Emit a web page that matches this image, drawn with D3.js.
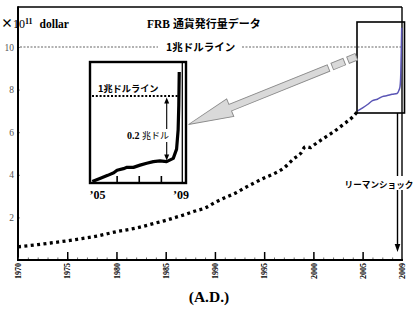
<!DOCTYPE html>
<html><head><meta charset="utf-8">
<script src="https://cdn.jsdelivr.net/npm/d3@7"></script>
<style>html,body{margin:0;padding:0;background:#fff;}svg{display:block;}</style>
</head><body>
<script>
// ---- data (×10^11 dollar) ----
const years = [1970,1972,1974,1975,1976,1978,1980,1982,1984,1985,1986,1987,1988,1989,1990,1991,1992,1993,1994,1995,1996,1997,1998,1998.7,1999.2,1999.7,2000,2001,2002,2003,2004,2004.5];
const values = [0.62,0.72,0.84,0.9,0.97,1.12,1.33,1.5,1.74,1.86,2.0,2.14,2.3,2.44,2.7,2.92,3.12,3.38,3.62,3.85,4.05,4.32,4.75,5.0,5.32,5.28,5.38,5.7,6.0,6.35,6.72,6.98];
const recentYears = [2004.5,2005,2005.5,2006,2006.5,2007,2007.5,2008,2008.5,2008.7,2008.8,2008.88,2008.93,2008.97];
const recentValues = [7.0,7.14,7.3,7.48,7.55,7.67,7.72,7.78,7.82,7.98,8.14,8.78,9.86,10.9];
const insetYears = [2004.9,2005.27,2005.6,2005.87,2006.02,2006.31,2006.47,2006.76,2007.06,2007.36,2007.66,2007.96,2008.26,2008.56,2008.71,2008.78,2008.81,2008.83];
const insetValues = [7.33,7.43,7.52,7.6,7.68,7.73,7.77,7.77,7.84,7.9,7.95,7.97,7.95,8.05,8.34,8.94,9.72,10.75];
const yTicks = [2,4,6,8,10];
const xMajorTicks = [1970,1975,1980,1985,1990,1995,2000,2005,2009];
const insetTicks = [2006,2007,2008];
const insetTickLabels = [[2005,"’05"],[2009,"’09"]];
const trillionLine = 10;

const W=414,H=319;
const jp="'Noto Sans CJK JP', sans-serif";
const serif="'Liberation Serif','Times New Roman',serif";
const svg=d3.select("body").append("svg").attr("width",W).attr("height",H);

const x=d3.scaleLinear().domain([1970,2009]).range([18,402]);
const y=d3.scaleLinear().domain([0,10]).range([260,47]);
const frameTop=7;

// frame top & right
svg.append("line").attr("x1",x(1970)).attr("x2",x(2009)).attr("y1",frameTop).attr("y2",frameTop).attr("stroke","#000").attr("stroke-width",1.6);
svg.append("line").attr("x1",x(2009)).attr("x2",x(2009)).attr("y1",frameTop).attr("y2",y(0)).attr("stroke","#000").attr("stroke-width",1.4);

// trillion dotted line (main)
const ty=y(trillionLine);
svg.append("line").attr("x1",x(1970)+2).attr("x2",158).attr("y1",ty).attr("y2",ty).attr("stroke","#666").attr("stroke-width",1.1).attr("stroke-dasharray","2,1.5");
svg.append("line").attr("x1",242).attr("x2",x(2009)).attr("y1",ty).attr("y2",ty).attr("stroke","#666").attr("stroke-width",1.1).attr("stroke-dasharray","2,1.5");
svg.append("text").attr("x",166).attr("y",ty+4).attr("font-family",jp).attr("font-weight","bold").attr("font-size",10.5).text("1兆ドルライン");

// title & unit
const tt=svg.append("text").attr("x",147).attr("y",28).attr("font-weight","bold").attr("font-size",11);
tt.append("tspan").attr("font-family",serif).attr("font-size",11.5).text("FRB ");
tt.append("tspan").attr("font-family",jp).text("通貨発行量データ");
const ut=svg.append("text").attr("x",1).attr("y",28).attr("font-family",serif).attr("font-weight","bold").attr("font-size",11.5);
ut.append("tspan").attr("font-family",jp).attr("font-size",12).text("×");
ut.append("tspan").attr("font-weight","normal").attr("font-size",12).text("10");
ut.append("tspan").attr("font-size",8).attr("dy",-4).text("11");
ut.append("tspan").attr("dy",4).attr("dx",7).text("dollar");

// y axis
const yAxis=d3.axisLeft(y).tickValues(yTicks).tickSize(-2).tickPadding(4).tickFormat(d3.format("d"));
const gy=svg.append("g").attr("transform",`translate(${x(1970)},0)`).call(yAxis);
gy.select(".domain").remove();
gy.selectAll(".tick line").attr("stroke","#888");
gy.selectAll("text").attr("font-family",serif).attr("font-size",9.5).attr("fill","#555");
svg.append("line").attr("x1",x(1970)).attr("x2",x(1970)).attr("y1",frameTop-0.8).attr("y2",y(0)+1).attr("stroke","#000").attr("stroke-width",2);

// x axis
const gx=svg.append("g").attr("transform",`translate(0,${y(0)})`);
gx.call(d3.axisBottom(x).tickValues(d3.range(1970,2010)).tickSize(-2.5).tickFormat(""));
gx.select(".domain").remove();
gx.selectAll(".tick line").attr("stroke","#444").attr("stroke-width",0.8);
const gxM=svg.append("g").attr("transform",`translate(0,${y(0)})`)
  .call(d3.axisBottom(x).tickValues(xMajorTicks).tickSize(-8).tickFormat(d3.format("d")));
gxM.select(".domain").remove();
gxM.selectAll(".tick line").attr("stroke","#000").attr("stroke-width",1.5);
gxM.selectAll(".tick line").filter(d=>d===1970||d===2009).remove();
gxM.selectAll("text").attr("font-family",serif).attr("font-weight","bold").attr("font-size",8)
  .attr("transform","rotate(-90)").attr("text-anchor","end").attr("x",-3).attr("y",0).attr("dy","0.33em");
svg.append("line").attr("x1",x(1970)-1).attr("x2",x(2009)+1).attr("y1",y(0)).attr("y2",y(0)).attr("stroke","#000").attr("stroke-width",2);

svg.append("text").attr("x",209).attr("y",302).attr("text-anchor","middle").attr("font-family",serif).attr("font-weight","bold").attr("font-size",15.5).text("(A.D.)");

// main dotted series
const line=d3.line().x((d,i)=>x(d[0])).y(d=>y(d[1])).curve(d3.curveMonotoneX);
svg.append("path").datum(years.map((d,i)=>[d,values[i]])).attr("d",line)
  .attr("fill","none").attr("stroke","#000").attr("stroke-width",3.3).attr("stroke-dasharray","3,3.4");
// recent series (blue)
svg.append("path").datum(recentYears.map((d,i)=>[d,recentValues[i]])).attr("d",line)
  .attr("fill","none").attr("stroke","#5a55b5").attr("stroke-width",1.5);

// highlight box
svg.append("rect").attr("x",357).attr("y",22).attr("width",47.5).attr("height",91)
  .attr("fill","none").attr("stroke","#000").attr("stroke-width",1.6);

// big gray arrow
const tip=[188.5,124.5], tail=[357,56.5];
const ang=Math.atan2(tail[1]-tip[1],tail[0]-tip[0])*180/Math.PI;
const ga=svg.append("g").attr("transform",`translate(${tip[0]},${tip[1]}) rotate(${ang})`);
ga.append("path").attr("d","M0,0 L45,-9.5 L45,-3.5 L151,-3.5 L151,3.5 L45,3.5 L45,9.5 Z")
  .attr("fill","#d9d9d9").attr("stroke","#8a8a8a").attr("stroke-width",0.9);
ga.append("rect").attr("x",155).attr("y",-3.5).attr("width",13).attr("height",7).attr("fill","#d9d9d9").attr("stroke","#8a8a8a").attr("stroke-width",0.9);
ga.append("rect").attr("x",172).attr("y",-3.5).attr("width",9).attr("height",7).attr("fill","#d9d9d9").attr("stroke","#8a8a8a").attr("stroke-width",0.9);

// Lehman arrow
const lx=397.5;
svg.append("line").attr("x1",lx).attr("x2",lx).attr("y1",113).attr("y2",246).attr("stroke","#000").attr("stroke-width",1.4);
svg.append("path").attr("d",`M${lx-2.8},244 L${lx+2.8},244 L${lx},252 Z`).attr("fill","#000");
svg.append("rect").attr("x",343).attr("y",176).attr("width",71).attr("height",14).attr("fill","#fff");
svg.append("text").attr("x",379).attr("y",187.5).attr("text-anchor","middle").attr("font-family",jp).attr("font-weight","bold").attr("font-size",8.6).text("リーマンショック");

// ---- inset ----
const ix=d3.scaleLinear().domain([2005,2009]).range([94.5,183]);
const iy=d3.scaleLinear().domain([8,10]).range([160,96]);
const ig=svg.append("g");
ig.append("rect").attr("x",90).attr("y",62).attr("width",96).attr("height",121).attr("fill","#fff").attr("stroke","#000").attr("stroke-width",2.4);
ig.append("line").attr("x1",182.3).attr("x2",182.3).attr("y1",62).attr("y2",183).attr("stroke","#000").attr("stroke-width",1.3);
ig.append("line").attr("x1",92).attr("x2",180).attr("y1",iy(trillionLine)).attr("y2",iy(trillionLine)).attr("stroke","#000").attr("stroke-width",2).attr("stroke-dasharray","2,1.8");
ig.append("text").attr("x",98).attr("y",92).attr("font-family",jp).attr("font-weight","bold").attr("font-size",9.2).text("1兆ドルライン");
// inset ticks
const git=ig.append("g").attr("transform","translate(0,183)").call(d3.axisBottom(ix).tickValues(insetTicks).tickSize(-7).tickFormat(""));
git.select(".domain").remove();
git.selectAll(".tick line").attr("stroke","#000").attr("stroke-width",1.6);
ig.selectAll(".itl").data(insetTickLabels).join("text").attr("class","itl")
  .attr("x",d=>ix(d[0])+(d[0]===2005?3:-2)).attr("y",199).attr("text-anchor","middle")
  .attr("font-family",serif).attr("font-weight","bold").attr("font-size",12).text(d=>d[1]);
// inset line
const iline=d3.line().x(d=>ix(d[0])).y(d=>iy(d[1]));
ig.append("path").datum(insetYears.map((d,i)=>[d,insetValues[i]])).attr("d",iline)
  .attr("fill","none").attr("stroke","#000").attr("stroke-width",3.2).attr("stroke-linejoin","round");
// 0.2 arrow
const ax=166.7, aTop=iy(trillionLine)+1.5, aBot=iy(8)+0.5;
ig.append("line").attr("x1",ax).attr("x2",ax).attr("y1",aTop+5).attr("y2",129).attr("stroke","#000").attr("stroke-width",1.1);
ig.append("line").attr("x1",ax).attr("x2",ax).attr("y1",142).attr("y2",aBot-5).attr("stroke","#000").attr("stroke-width",1.1);
ig.append("path").attr("d",`M${ax-2.5},${aTop+6} L${ax+2.5},${aTop+6} L${ax},${aTop} Z`).attr("fill","#000");
ig.append("path").attr("d",`M${ax-2.5},${aBot-6} L${ax+2.5},${aBot-6} L${ax},${aBot} Z`).attr("fill","#000");
const lt=ig.append("text").attr("x",127).attr("y",139).attr("font-size",9);
lt.append("tspan").attr("font-family",serif).attr("font-weight","bold").attr("font-size",10).text("0.2 ");
lt.append("tspan").attr("font-family",jp).text("兆ドル");
</script>
</body></html>
